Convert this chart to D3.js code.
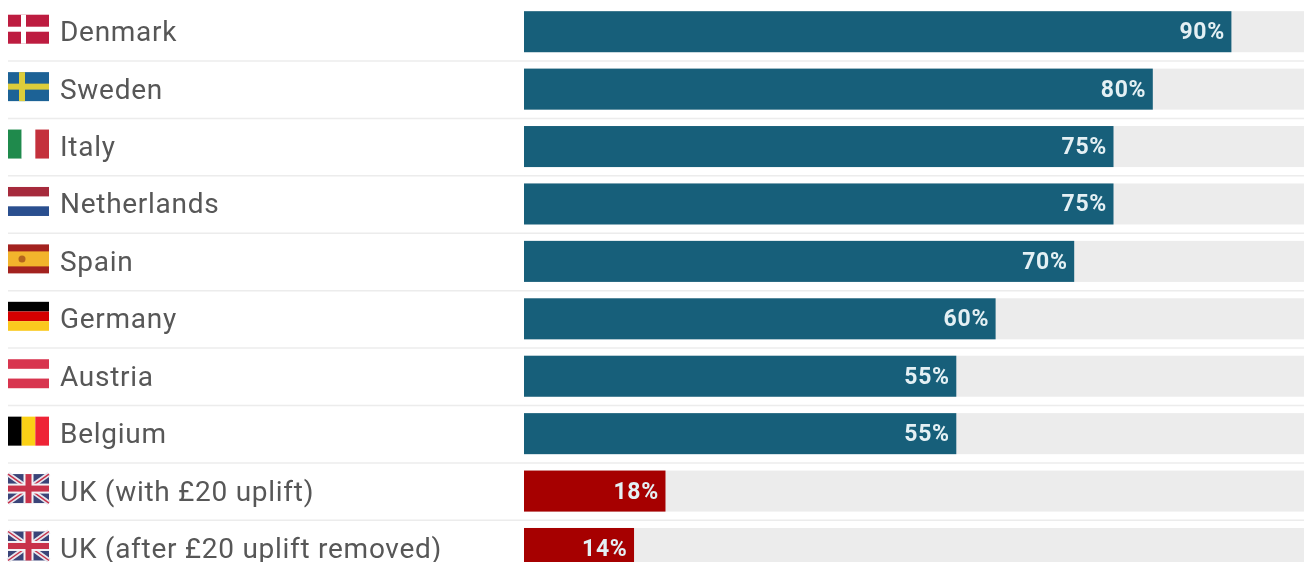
<!DOCTYPE html>
<html>
<head>
<meta charset="utf-8">
<script src="https://cdn.jsdelivr.net/npm/d3@7"></script>
<style>
html, body { margin: 0; padding: 0; background: #fff; overflow: hidden; }
text { font-family: Roboto, sans-serif; }
svg { filter: blur(0.45px); }
</style>
</head>
<body>
<div id="container"></div>
<script>
var countries = ["Denmark", "Sweden", "Italy", "Netherlands", "Spain", "Germany", "Austria", "Belgium", "UK (with £20 uplift)", "UK (after £20 uplift removed)"];
var values = [90, 80, 75, 75, 70, 60, 55, 55, 18, 14];
var flags = ["dk", "se", "it", "nl", "es", "de", "at", "be", "uk", "uk"];

var width = 1304;
var height = 562;
var step = 57.42;

var svg = d3.select("#container").append("svg")
  .attr("width", width)
  .attr("height", height)
  .style("display", "block");

var x = d3.scaleLinear().domain([0, 100]).range([524, 1310]);
var y = d3.scaleBand()
  .domain(countries)
  .range([3, 3 + step * countries.length])
  .paddingInner(16.4 / step)
  .paddingOuter(8.2 / step);

var barColor = function (d) { return d.startsWith("UK") ? "#a60000" : "#175f7a"; };

var rows = svg.selectAll("g.row")
  .data(countries)
  .enter()
  .append("g")
  .attr("class", "row");

// row separators
rows.filter(function (d, i) { return i < countries.length - 1; })
  .append("line")
  .attr("x1", 8)
  .attr("x2", width)
  .attr("y1", function (d) { return y(d) + y.bandwidth() + 8.75; })
  .attr("y2", function (d) { return y(d) + y.bandwidth() + 8.75; })
  .attr("stroke", "#ececec")
  .attr("stroke-width", 1.5);

// grey track
rows.append("rect")
  .attr("x", x(0))
  .attr("y", function (d) { return y(d); })
  .attr("width", x(100) - x(0))
  .attr("height", y.bandwidth())
  .attr("fill", "#ececec");

// value bar
rows.append("rect")
  .attr("x", x(0))
  .attr("y", function (d) { return y(d); })
  .attr("width", function (d, i) { return x(values[i]) - x(0); })
  .attr("height", y.bandwidth())
  .attr("fill", barColor);

rows.append("text")
  .attr("x", function (d, i) { return x(values[i]) - 6.5; })
  .attr("y", function (d) { return y(d) + y.bandwidth() / 2 + 7.5; })
  .attr("text-anchor", "end")
  .attr("fill", "#e4f0f4")
  .attr("font-size", 23)
  .attr("font-weight", 700)
  .attr("letter-spacing", 0.7)
  .text(function (d, i) { return values[i] + "%"; });

rows.append("text")
  .attr("x", 60)
  .attr("y", function (d) { return y(d) + y.bandwidth() / 2 + 9.5; })
  .attr("fill", "#575757")
  .attr("font-size", 28)
  .attr("letter-spacing", 0.72)
  .text(function (d) { return d; });

// flags are 41x29 icons
function band(g, colors, vertical) {
  colors.forEach(function (c, i) {
    var r = g.append("rect").attr("fill", c);
    if (vertical) {
      r.attr("x", i * 41 / colors.length).attr("y", 0).attr("width", 41 / colors.length).attr("height", 29);
    } else {
      r.attr("x", 0).attr("y", i * 29 / colors.length).attr("width", 41).attr("height", 29 / colors.length);
    }
  });
}
function cross(g, bg, fg, cx, w) {
  g.append("rect").attr("width", 41).attr("height", 29).attr("fill", bg);
  g.append("rect").attr("x", cx).attr("width", w).attr("height", 29).attr("fill", fg);
  g.append("rect").attr("y", 14.5 - w / 2).attr("width", 41).attr("height", w).attr("fill", fg);
}
var drawFlag = {
  dk: function (g) { cross(g, "#bd1c40", "#fff", 13, 5); },
  se: function (g) { cross(g, "#1c6296", "#dccd3a", 11, 6); },
  it: function (g) { band(g, ["#1f8a4c", "#fff", "#c4313c"], true); },
  nl: function (g) { band(g, ["#a62a3c", "#fff", "#2a4f8f"], false); },
  es: function (g) {
    g.append("rect").attr("width", 41).attr("height", 29).attr("fill", "#a3221f");
    g.append("rect").attr("y", 7).attr("width", 41).attr("height", 15).attr("fill", "#f2b42c");
    g.append("circle").attr("cx", 14).attr("cy", 14.5).attr("r", 3.5).attr("fill", "#b5651d");
  },
  de: function (g) { band(g, ["#000", "#d40000", "#fbc91e"], false); },
  at: function (g) { band(g, ["#d8354f", "#fff", "#d8354f"], false); },
  be: function (g) { band(g, ["#000", "#fbd116", "#ee2436"], true); },
  uk: function (g) {
    g.append("rect").attr("width", 41).attr("height", 29).attr("fill", "#3a4478");
    g.append("path").attr("d", "M0,0L41,29M41,0L0,29").attr("stroke", "#e6e6ee").attr("stroke-width", 5);
    g.append("path").attr("d", "M0,0L41,29M41,0L0,29").attr("stroke", "#c8324a").attr("stroke-width", 1.5);
    g.append("rect").attr("x", 15.5).attr("width", 10).attr("height", 29).attr("fill", "#f2f2f5");
    g.append("rect").attr("y", 9.5).attr("width", 41).attr("height", 10).attr("fill", "#f2f2f5");
    g.append("rect").attr("x", 17.5).attr("width", 6).attr("height", 29).attr("fill", "#c8324a");
    g.append("rect").attr("y", 11.5).attr("width", 41).attr("height", 6).attr("fill", "#c8324a");
  }
};
rows.append("g")
  .attr("transform", function (d) { return "translate(8," + (y(d) + y.bandwidth() / 2 - 17) + ")"; })
  .each(function (d, i) { drawFlag[flags[i]](d3.select(this)); });
</script>
</body>
</html>
